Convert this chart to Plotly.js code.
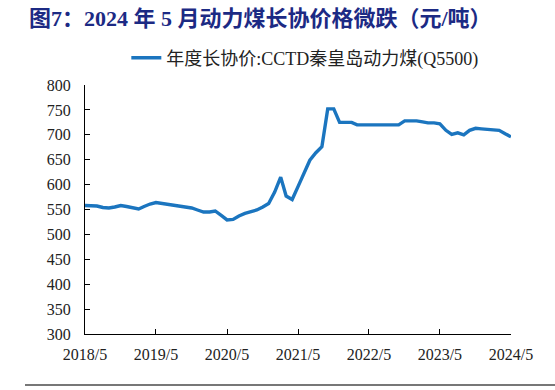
<!DOCTYPE html>
<html><head><meta charset="utf-8">
<script src="https://cdn.plot.ly/plotly-3.0.1.min.js"></script>
<style>body{margin:0;background:#fff}#c{width:555px;height:390px}</style>
</head><body><div id="c"></div>
<script>
const seriesName = "年度长协价:CCTD秦皇岛动力煤(Q5500)";
const startYear = 2018, startMonth = 5;
const prices = [
  558, 558, 557, 554, 553, 555, 558, 556, 554, 551, 556, 561,
  564, 562, 560, 558, 556, 555, 553, 549, 545, 545, 547, 538,
  529, 530, 537, 542, 545, 549, 555, 562, 585, 615, 577, 570,
  596, 624, 649, 664, 676, 752, 752, 725, 725, 725, 720, 720,
  720, 720, 720, 720, 720, 720, 728, 728, 728, 726, 724, 724,
  722, 709, 701, 704, 700, 709, 713, 712, 711, 710, 709, 702,
  696
];
const tickLabels = ["2018/5","2019/5","2020/5","2021/5","2022/5","2023/5","2024/5"];
const tickDates = ["2018-05-01","2019-05-01","2020-05-01","2021-05-01","2022-05-01","2023-05-01","2024-05-01"];
const yTicks = [300,350,400,450,500,550,600,650,700,750,800];

const dates = prices.map((_, i) => {
  const m0 = startMonth - 1 + i;
  const y = startYear + Math.floor(m0 / 12);
  const m = (m0 % 12) + 1;
  return y + "-" + String(m).padStart(2, "0") + "-01";
});

const serif = "Liberation Serif, Times New Roman, Noto Sans CJK SC, serif";
const trace = {
  x: dates, y: prices, type: "scatter", mode: "lines", name: seriesName,
  line: {color: "#1b75bf", width: 3.4}
};
const layout = {
  width: 555, height: 390,
  margin: {l: 85, r: 44, t: 85, b: 56},
  paper_bgcolor: "#fff", plot_bgcolor: "#fff",
  showlegend: true,
  legend: {x: 0.097, y: 1.108, xanchor: "left", yanchor: "middle", orientation: "h",
           font: {family: serif, size: 18, color: "#222"}, bgcolor: "rgba(0,0,0,0)"},
  xaxis: {
    type: "date", range: ["2018-05-01", "2024-05-01"],
    tickmode: "array", tickvals: tickDates, ticktext: tickLabels,
    showgrid: false, zeroline: false, showline: true, linecolor: "#000", linewidth: 1,
    ticks: "inside", ticklen: 5, tickcolor: "#000", ticklabelstandoff: 6,
    tickfont: {family: serif, size: 16, color: "#222"}
  },
  yaxis: {
    range: [300, 800], tickmode: "array", tickvals: yTicks,
    showgrid: false, zeroline: false, showline: true, linecolor: "#000", linewidth: 1,
    ticks: "inside", ticklen: 5, tickcolor: "#000", ticklabelstandoff: 10,
    tickfont: {family: serif, size: 16, color: "#222"}
  },
  annotations: [{
    text: "<b>图7：2024 年 5 月动力煤长协价格微跌（元/吨）</b>",
    xref: "paper", yref: "paper", x: -58/426, y: 1 + (85 - 18) / 249,
    xanchor: "left", yanchor: "middle", showarrow: false,
    font: {family: "Liberation Serif, Noto Sans CJK SC, serif", size: 22, color: "#1c2a84"}
  }],
  shapes: [
    {type: "line", xref: "paper", yref: "paper", x0: -60/426, x1: 470/426,
     y0: -(385-334)/249, y1: -(385-334)/249, line: {color: "#777", width: 2}}
  ]
};
Plotly.newPlot("c", [trace], layout, {displayModeBar: false, staticPlot: true});
</script></body></html>
